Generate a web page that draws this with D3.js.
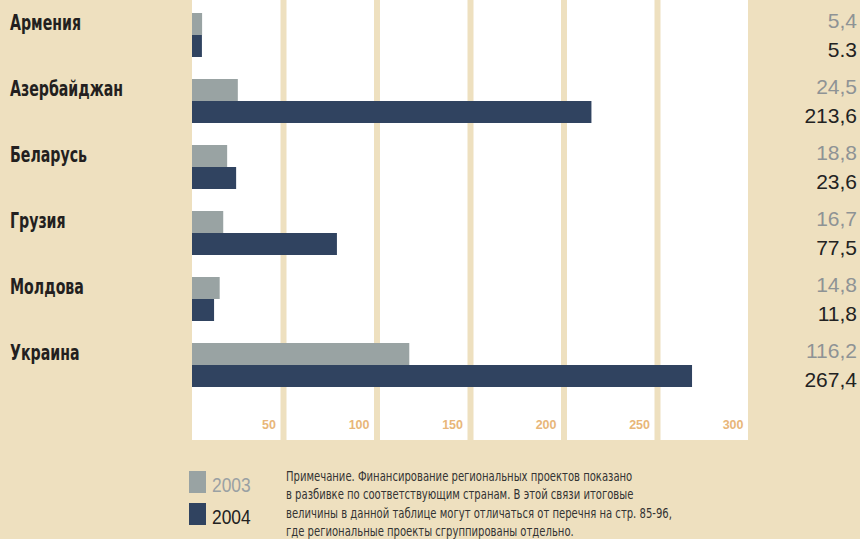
<!DOCTYPE html>
<html>
<head>
<meta charset="utf-8">
<script src="https://cdn.jsdelivr.net/npm/d3@7"></script>
<style>
  body { margin: 0; background: #eee0bf; }
  svg { display: block; }
  .country { font-family: "Liberation Sans Narrow", "DejaVu Sans Condensed", sans-serif; font-weight: bold; font-size: 21px; fill: #231f20; }
  .val { font-family: "Liberation Sans", Arial, sans-serif; font-size: 21px; }
  .note { font-family: "Liberation Sans Narrow", "DejaVu Sans Condensed", sans-serif; font-size: 14.5px; fill: #333; }
</style>
</head>
<body>
<div id="chart"></div>
<script>
(function() {

    var countries = ["Армения", "Азербайджан", "Беларусь", "Грузия", "Молдова", "Украина"];
    var values2003 = [5.4, 24.5, 18.8, 16.7, 14.8, 116.2];
    var values2004 = [5.3, 213.6, 23.6, 77.5, 11.8, 267.4];
    var labels2003 = ["5,4", "24,5", "18,8", "16,7", "14,8", "116,2"];
    var labels2004 = ["5.3", "213,6", "23,6", "77,5", "11,8", "267,4"];
    var years = ["2003", "2004"];
    var tickValues = [50, 100, 150, 200, 250, 300];
    var noteLines = [
        "Примечание. Финансирование региональных проектов показано",
        "в разбивке по соответствующим странам. В этой связи итоговые",
        "величины в данной таблице могут отличаться от перечня на стр. 85-96,",
        "где региональные проекты сгруппированы отдельно."
    ];

    var colors = {"2003": "#99a3a3", "2004": "#304360"};
    var textColors = {"2003": "#8e9395", "2004": "#222222"};

    var width = 860, height = 539;

    var svg = d3.select("#chart").append("svg")
        .attr("width", width)
        .attr("height", height);

    svg.append("rect")
        .attr("width", width).attr("height", height)
        .attr("fill", "#eee0bf");

    var x = d3.scaleLinear().domain([0, 300]).range([192, 192 + 300 * 1.87]);

    var y = d3.scaleBand()
        .domain(countries)
        .range([13, 387])
        .paddingInner(1 / 3)
        .paddingOuter(0);

    var yInner = d3.scaleBand().domain(years).range([0, y.bandwidth()]);

    // white plotting panel
    svg.append("rect")
        .attr("x", x(0))
        .attr("y", 0)
        .attr("width", x(300) - 5 - x(0))
        .attr("height", 440)
        .attr("fill", "#ffffff");

    // beige grid stripes
    svg.append("g").selectAll("rect")
        .data(tickValues.slice(0, -1))
        .enter().append("rect")
        .attr("x", function(d) { return x(d) - 5; })
        .attr("y", 0)
        .attr("width", 6)
        .attr("height", 440)
        .attr("fill", "#eee0bf");

    var rows = countries.map(function(c, i) {
        return {
            country: c,
            bars: [
                {year: "2003", value: values2003[i], label: labels2003[i]},
                {year: "2004", value: values2004[i], label: labels2004[i]}
            ]
        };
    });

    var row = svg.append("g").selectAll("g")
        .data(rows)
        .enter().append("g")
        .attr("transform", function(d) { return "translate(0," + y(d.country) + ")"; });

    row.selectAll("rect")
        .data(function(d) { return d.bars; })
        .enter().append("rect")
        .attr("x", x(0))
        .attr("y", function(d) { return yInner(d.year); })
        .attr("width", function(d) { return x(d.value) - x(0); })
        .attr("height", yInner.bandwidth())
        .attr("fill", function(d) { return colors[d.year]; });

    // condensed country names (no narrow font installed, so squeeze it)
    row.append("text")
        .attr("class", "country")
        .attr("transform", "translate(10,16.5) scale(0.75,1)")
        .text(function(d) { return d.country; });

    row.selectAll("text.val")
        .data(function(d) { return d.bars; })
        .enter().append("text")
        .attr("class", "val")
        .attr("x", 857)
        .attr("y", function(d) { return d.year === "2003" ? 15 : 44; })
        .attr("text-anchor", "end")
        .attr("fill", function(d) { return textColors[d.year]; })
        .text(function(d) { return d.label; });

    // axis labels
    var axis = svg.append("g")
        .attr("transform", "translate(0,429)")
        .call(d3.axisBottom(x).tickValues(tickValues).tickSize(0));
    axis.select(".domain").remove();
    axis.selectAll("text")
        .attr("y", 0)
        .attr("dy", 0)
        .attr("dx", -10)
        .attr("text-anchor", "end")
        .attr("fill", "#e8b679")
        .style("font-family", "'Liberation Sans', Arial, sans-serif")
        .style("font-weight", "bold")
        .style("font-size", "12.5px");

    // legend
    var legend = svg.append("g").selectAll("g")
        .data(years)
        .enter().append("g")
        .attr("transform", function(d, i) { return "translate(189," + (471 + i * 32) + ")"; });

    legend.append("rect")
        .attr("width", 17)
        .attr("height", 22)
        .attr("fill", function(d) { return colors[d]; });

    legend.append("text")
        .attr("transform", "translate(23,20.5) scale(0.87,1)")
        .attr("fill", function(d) { return d === "2003" ? "#9aa1a3" : "#222"; })
        .style("font-family", "'Liberation Sans', Arial, sans-serif")
        .style("font-size", "20px")
        .text(function(d) { return d; });

    // note
    svg.append("text")
        .attr("class", "note")
        .attr("transform", "translate(286,0) scale(0.77,1)")
        .selectAll("tspan")
        .data(noteLines)
        .enter().append("tspan")
        .attr("x", 0)
        .attr("y", function(d, i) { return 481 + i * 18.3; })
        .text(function(d) { return d; });

})();
</script>
</body>
</html>
